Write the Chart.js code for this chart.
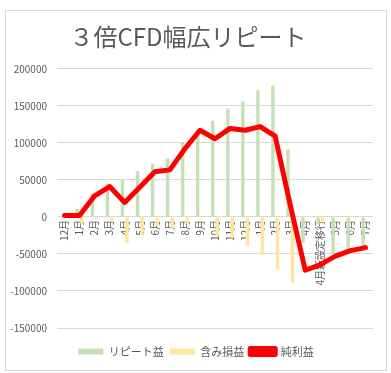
<!DOCTYPE html>
<html>
<head>
<meta charset="utf-8">
<script src="https://cdn.jsdelivr.net/npm/chart.js@4.4.1/dist/chart.umd.min.js"></script>
<style>
  body { margin: 0; background: #fff; }
  #frame { position: absolute; left: 5px; top: 10px; width: 380px; height: 359px; border: 1px solid #d9d9d9; }
  #chart { position: absolute; left: 0; top: 0; }
</style>
</head>
<body>
<div id="frame"></div>
<canvas id="chart" width="391" height="373"></canvas>
<script>
  const months = ["12月", "1月", "2月", "3月", "4月", "5月", "6月", "7月", "8月", "9月", "10月",
    "11月", "12月", "1月", "2月", "3月", "4月", "4月新設定移行", "5月", "6月", "7月"];

  // リピート益
  const repeatProfit = [0, 11000, 31000, 45000, 50000, 62000, 72000, 79000, 101000, 118000, 130000,
    146000, 156000, 171000, 177000, 91000, -35000, -10000, -50000, -44000, -41000];

  // 含み損益
  const unrealized = [0, -9000, -3000, -5000, -35000, -24000, -12000, -16000, -9000, -2000, -26000,
    -28000, -39500, -51000, -71000, -89000, 0, -7500, 0, 0, 0];

  // 純利益
  const netProfit = [2000, 2000, 28500, 41000, 19500, 40000, 61000, 63500, 92000, 117000, 105500,
    119500, 117000, 122000, 109000, 16000, -72000, -64500, -53000, -45500, -41500];

  const yTicks = { min: -150000, max: 200000, step: 50000 };

  const textGray = "#595959";
  Chart.defaults.font.family = "'Noto Sans CJK JP', 'Noto Sans', sans-serif";
  Chart.defaults.color = textGray;

  // small nudges: more room above the legend, title a bit to the left
  const nudge = (box, dx, dy) => {
    const draw = box.draw;
    box.draw = function () {
      this.ctx.save();
      this.ctx.translate(dx, dy);
      draw.call(this);
      this.ctx.restore();
    };
  };
  const layoutTweaks = {
    id: "layoutTweaks",
    afterInit(chart) {
      const lg = chart.legend;
      const fit = lg.fit;
      lg.fit = function () {
        fit.call(this);
        this.height += 16;
      };
      nudge(lg, 4, 12);
      nudge(chart.titleBlock, -4, 0);
    },
  };

  new Chart(document.getElementById("chart"), {
    type: "bar",
    data: {
      labels: months,
      datasets: [
        {
          label: "リピート益",
          data: repeatProfit,
          backgroundColor: "#C5E0B4",
          categoryPercentage: 0.6,
          barPercentage: 0.75,
          order: 1,
        },
        {
          label: "含み損益",
          data: unrealized,
          backgroundColor: "#FFE699",
          categoryPercentage: 0.6,
          barPercentage: 0.75,
          order: 1,
        },
        {
          type: "line",
          label: "純利益",
          data: netProfit,
          borderColor: "#FF0000",
          backgroundColor: "#FF0000",
          borderWidth: 5,
          pointRadius: 0,
          borderJoinStyle: "round",
          borderCapStyle: "round",
          tension: 0,
          fill: false,
          order: 0,
        },
      ],
    },
    options: {
      responsive: false,
      animation: false,
      devicePixelRatio: 1,
      layout: { padding: { left: 11, right: 18, top: 10, bottom: 2 } },
      plugins: {
        title: {
          display: true,
          text: "３倍CFD幅広リピート",
          color: textGray,
          font: { size: 24, weight: "normal" },
          padding: { top: 12, bottom: 18 },
        },
        legend: {
          position: "bottom",
          labels: {
            boxWidth: 25,
            boxHeight: 6,
            padding: 6,
            color: textGray,
            font: { size: 11 },
            sort: (a, b) => a.datasetIndex - b.datasetIndex,
          },
        },
        tooltip: { enabled: false },
      },
      scales: {
        x: {
          position: { y: 0 },
          grid: { display: false, drawTicks: false },
          border: { display: false },
          ticks: {
            autoSkip: false,
            minRotation: 90,
            maxRotation: 90,
            padding: 3,
            font: { size: 10 },
            color: textGray,
          },
        },
        y: {
          min: yTicks.min,
          max: yTicks.max,
          afterFit: (scale) => { scale.width = 46; },
          grid: { color: "#d9d9d9", drawTicks: false },
          border: { display: false },
          ticks: {
            stepSize: yTicks.step,
            padding: 10,
            font: { size: 10 },
            color: textGray,
            callback: (v) => String(v),
          },
        },
      },
    },
    plugins: [layoutTweaks],
  });
</script>
</body>
</html>
